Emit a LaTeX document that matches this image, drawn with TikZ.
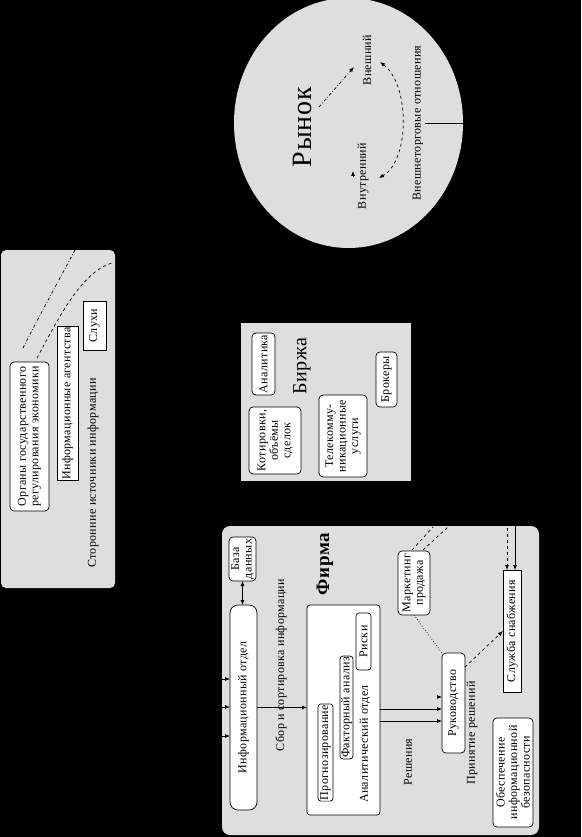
\documentclass[tikz,border=0pt]{standalone}
\usepackage{fontspec}
\setmainfont{Liberation Serif}[LetterSpace=3]
\usetikzlibrary{shapes.geometric,arrows.meta}
\definecolor{panelgray}{RGB}{222,222,222}

\begin{document}
\begin{tikzpicture}[x=1pt,y=-1pt,line width=0.7pt,>={Latex[length=5pt,width=4pt]},
    panel/.style={fill=panelgray,draw=none,inner sep=0pt,outer sep=0pt},
    box/.style={draw,fill=white,rounded corners=4pt,rotate=90,align=center,inner sep=1pt,outer sep=0pt,font=\fontsize{12}{12.5}\selectfont},
    sqbox/.style={box,rounded corners=0pt},
    lbl/.style={rotate=90,inner sep=0pt,font=\fontsize{12}{12.5}\selectfont},
    bigtitle/.style={rotate=90,inner sep=0pt}]
                        \fill[black] (0,0) rectangle (581,837);
                        \useasboundingbox (0,0) rectangle (581,837);

                        % Panels
                        \node[panel, rounded corners=5pt, minimum width=114pt, minimum height=338pt] (src) at (58,419) {};
                        \node[panel, minimum width=170pt, minimum height=158pt] (birzha) at (326,402) {};
                        \node[panel, rounded corners=8pt, minimum width=317pt, minimum height=309pt] (firma) at (380.5,680.5) {};
                        \node[panel, ellipse, minimum width=229pt, minimum height=250pt] (market) at (348.5,123) {};

                        % Nodes: third-party sources
                        \node[box, minimum width=149pt, minimum height=39pt] (organy) at (29.5,436.5) {Органы государственного\\регулирования экономики};
                        \node[sqbox, minimum width=153pt, minimum height=21pt] (agentstva) at (67.5,403.5) {Информационные агентства};
                        \node[sqbox, minimum width=49pt, minimum height=23pt] (sluhi) at (94.5,325.5) {Слухи};
                        \node[lbl] (srclbl) at (93,473) {Сторонние источники информации};

                        % Nodes: exchange
                        \node[box, minimum width=62pt, minimum height=23pt] (analitika) at (263.5,364) {Аналитика};
                        \node[bigtitle, font=\fontsize{20}{22}\selectfont] (birzhalbl) at (302,366) {Биржа};
                        \node[box, minimum width=67pt, minimum height=52pt] (kotir) at (275,440.5) {Котировки,\\объёмы\\сделок};
                        \node[box, minimum width=82pt, minimum height=48pt] (telekom) at (343,436) {Телекомму-\\никационные\\услуги};
                        \node[box, minimum width=55pt, minimum height=21pt] (brokery) at (386.5,379.5) {Брокеры};

                        % Nodes: market
                        \node[bigtitle, font=\fontsize{28}{30}\selectfont] (rynok) at (302,127) {Рынок};
                        \node[lbl] (vnesh) at (367,60) {Внешний};
                        \node[lbl] (vnutr) at (363,176) {Внутренний};
                        \node[lbl] (vneshtorg) at (418,123) {Внешнеторговые отношения};
                        \coordinate (rk) at (319,107);
                        \coordinate (vn) at (354,67);
                        \coordinate (vt1) at (353,177);
                        \coordinate (vt2) at (353,171);
                        \coordinate (ve) at (380,62);
                        \coordinate (vi) at (379,178);
                        \coordinate (vto) at (425,123);

                        % Nodes: firm
                        \node[bigtitle, font=\fontsize{19}{21}\selectfont\bfseries] (firmalbl) at (325,564) {Фирма};
                        \node[box, minimum width=44pt, minimum height=27pt] (baza) at (242.5,559) {База\\данных};
                        \node[box, rounded corners=8pt, minimum width=205pt, minimum height=27pt] (infotdel) at (243.5,707.5) {Информационный отдел};
                        \node[lbl] (sbor) at (281,665) {Сбор и сортировка информации};
                        \node[box, rounded corners=3pt, minimum width=210pt, minimum height=73pt] (analit) at (343.5,710) {};
                        \node[box, rounded corners=3pt, minimum width=91pt, minimum height=15pt] (prognoz) at (325.5,752.5) {Прогнозирование};
                        \node[box, rounded corners=3pt, minimum width=101pt, minimum height=13pt] (faktor) at (346.5,707.5) {Факторный анализ};
                        \node[box, rounded corners=3pt, minimum width=57pt, minimum height=15pt] (riski) at (363.5,641.5) {Риски};
                        \node[lbl] (analitlbl) at (365,744) {Аналитический отдел};
                        \node[lbl] (resh) at (408,762) {Решения};
                        \node[box, minimum width=100pt, minimum height=23pt] (ruk) at (453.5,703) {Руководство};
                        \node[lbl] (prin) at (472,733) {Принятие решений};
                        \node[box, minimum width=64pt, minimum height=32pt] (market2) at (414,583) {Маркетинг\\продажа};
                        \node[sqbox, minimum width=122pt, minimum height=18pt] (snab) at (512,631) {Служба снабжения};
                        \node[box, minimum width=109pt, minimum height=40pt] (obesp) at (513,772.5) {Обеспечение\\информационной\\безопасности};

                        \coordinate (g1a) at (23,348);
                        \coordinate (g1b) at (75,250);
                        \coordinate (g2a) at (37,358);
                        \coordinate (g2b) at (112,263);
                        \coordinate (in1) at (222,679);
                        \coordinate (in2) at (222,707);
                        \coordinate (in3) at (222,736);
                        \coordinate (a0) at (437,697);
                        \coordinate (m1a) at (412,550);
                        \coordinate (m1b) at (433,527);
                        \coordinate (m2a) at (423,550);
                        \coordinate (m2b) at (448,527);
                        \coordinate (s1) at (515,526);
                        \coordinate (s2) at (507,528);

                        % Edges
                        \draw[-, dash dot] (g1a) .. controls (38,318) and (58,282) .. (g1b);
                        \draw[-, dashed] (g2a) .. controls (60,315) and (82,272) .. (g2b);

                        \draw[->, dash dot] (rk) -- (vn);
                        \draw[->] (vt1) -- (vt2);
                        \draw[<->, dashed] (ve) .. controls (410,85) and (410,160) .. (vi);
                        \draw[-] (vto) -- (market.east);

                        \draw[<->] (baza.west) -- (infotdel.east -| baza.west);
                        \draw[->] (in1) -- (in1 -| infotdel.north);
                        \draw[->] (in2) -- (in2 -| infotdel.north);
                        \draw[->] (in3) -- (in3 -| infotdel.north);
                        \draw[->] (infotdel.south) -- (infotdel.south -| analit.north);
                        \draw[->] (analit.south |- 0,709) -- (ruk.north |- 0,709);
                        \draw[->] (analit.south |- 0,721) -- (ruk.north |- 0,721);
                        \draw[->] (a0) -- (a0 -| ruk.north);
                        \draw[-, dotted] (market2.west) -- (ruk.north east);
                        \draw[->, dashed] ([yshift=-14pt]ruk.south east) -- (snab.north);
                        \draw[-, dashed] (m1a) -- (m1b);
                        \draw[-, dashed] (m2a) -- (m2b);
                        \draw[->] (s1) -- (s1 |- snab.east);
                        \draw[->, dashed] (s2) -- (s2 |- snab.east);
                    \end{tikzpicture}
\end{document}
